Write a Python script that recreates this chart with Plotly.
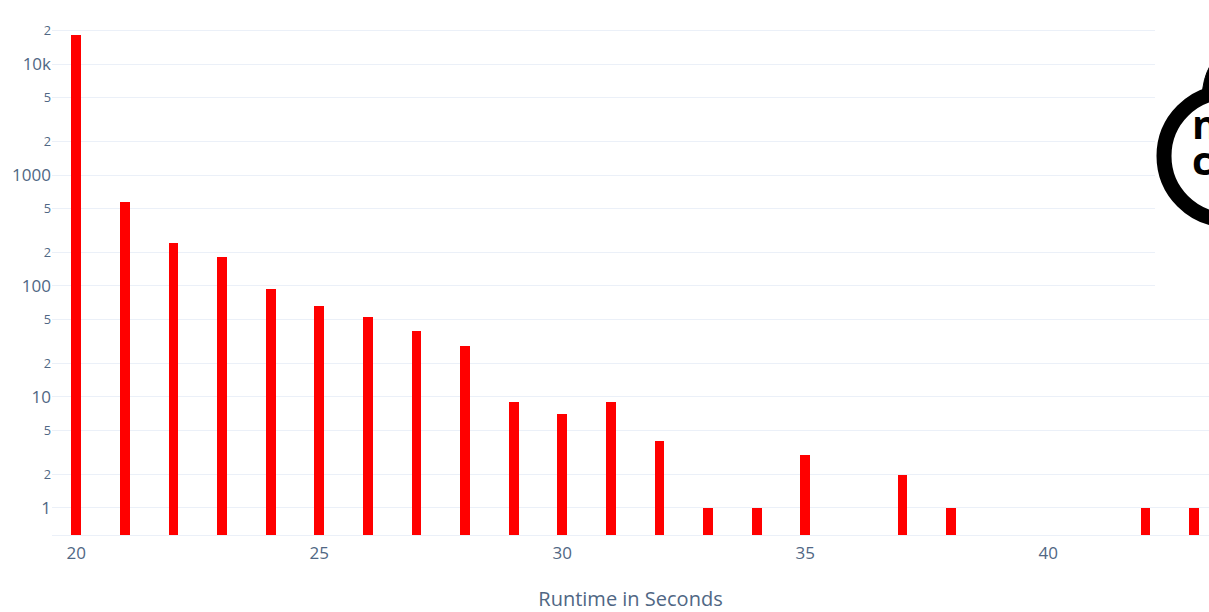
import plotly.graph_objects as go

runtime_seconds = [20, 21, 22, 23, 24, 25, 26, 27, 28, 29, 30, 31, 32, 33, 34, 35, 37, 38, 42, 43]
run_counts = [18200, 570, 245, 182, 94, 66, 53, 39, 29, 9, 7, 9, 4, 1, 1, 3, 2, 1, 1, 1]

W, H = 1209, 612
L, R, T, B = 52, 0, 8, 77
pw, ph = W - L - R, H - T - B
X_MAX = 19.5 + pw / 48.6


def px(x):
    # screen x -> paper x
    return (x - L) / pw


def py(y):
    # screen y -> paper y
    return (H - B - y) / ph


fig = go.Figure()
fig.add_trace(go.Bar(
    x=runtime_seconds,
    y=run_counts,
    width=0.2,
    marker=dict(color="#ff0000", line=dict(width=0)),
))

shapes = [
    dict(type="rect", xref="paper", yref="paper", x0=px(1155), x1=px(1300), y0=py(300), y1=py(-5),
         fillcolor="white", line=dict(width=0), layer="above"),
    dict(type="circle", xref="paper", yref="paper", x0=px(1164), x1=px(1292), y0=py(220), y1=py(92),
         line=dict(color="black", width=15), fillcolor="rgba(0,0,0,0)", layer="above"),
    dict(type="path", xref="paper", yref="paper",
         path=f"M {px(1202)},{py(97)} Q {px(1203)},{py(78)} {px(1210)},{py(66)} L {px(1212)},{py(95)} Z",
         fillcolor="black", line=dict(color="black", width=1), layer="above"),
]

fig.update_layout(
    template="plotly_white",
    width=W, height=H,
    margin=dict(l=L, r=R, t=T, b=B),
    font=dict(family="Open Sans", size=17, color="#506784"),
    showlegend=False,
    bargap=0,
    shapes=shapes,
    annotations=[
        dict(xref="paper", yref="paper", x=px(1190), y=py(124), text="n", showarrow=False,
             xanchor="left", yanchor="middle",
             font=dict(family="Open Sans", size=40, color="black", weight="bold")),
        dict(xref="paper", yref="paper", x=px(1190), y=py(159), text="c", showarrow=False,
             xanchor="left", yanchor="middle",
             font=dict(family="Open Sans", size=40, color="black", weight="bold")),
    ],
)
fig.update_xaxes(
    range=[19.5, X_MAX],
    dtick=5,
    automargin=False,
    ticklabelstandoff=3,
    title=dict(text="Runtime in Seconds", font=dict(size=20), standoff=38),
    showline=True, linecolor="#EBF0F8",
)
fig.update_yaxes(
    type="log",
    automargin=False,
    range=[-0.244, 4.505],
    dtick="D2",
)

fig.write_html(
    "out.html",
    config={"displayModeBar": False},
    post_script="document.body.style.margin='0';document.body.style.overflow='hidden';",
)
